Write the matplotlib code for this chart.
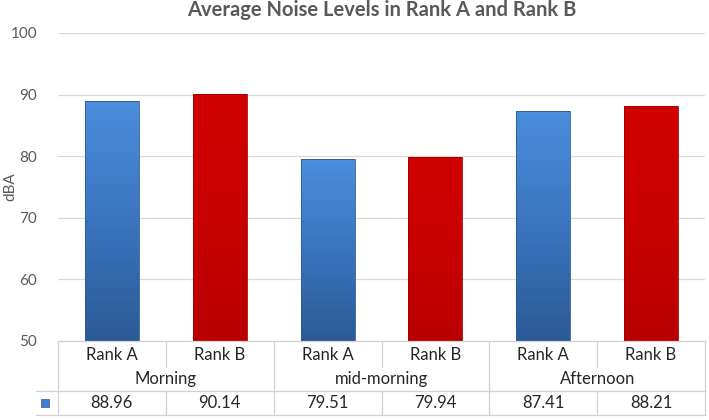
import matplotlib
matplotlib.use("Agg")
import matplotlib.pyplot as plt
import numpy as np
from matplotlib.colors import LinearSegmentedColormap

periods = ["Morning", "mid-morning", "Afternoon"]
ranks = ["Rank A", "Rank B"]
values = [88.96, 90.14, 79.51, 79.94, 87.41, 88.21]
value_labels = ["88.96", "90.14", "79.51", "79.94", "87.41", "88.21"]
yticks = [50, 60, 70, 80, 90, 100]

plt.rcParams['font.family'] = ['Lato', 'DejaVu Sans']
W, H = 709, 420
fig = plt.figure(figsize=(W / 100, H / 100), dpi=100)
fig.patch.set_facecolor("white")

def fx(px):
    return px / W

def fy(py):
    return 1 - py / H

L, R, T, B = 58, 705, 33, 341
ax = fig.add_axes([fx(L), fy(B), fx(R - L), (B - T) / H])
n = len(values)
x = np.arange(n)
ax.set_xlim(-0.5, n - 0.5)
ax.set_ylim(50, 100)
for s in ax.spines.values():
    s.set_visible(False)
ax.set_xticks([])
ax.set_yticks(yticks)
ax.tick_params(axis='y', length=0, pad=15, labelsize=11, labelcolor="#595959")
for yv in yticks[1:]:
    ax.axhline(yv, color="#d9d9d9", lw=0.9, zorder=0)
ax.set_ylabel("dBA", color="#595959", fontsize=11)
ax.yaxis.set_label_coords(-(L - 17) / (R - L), 0.5)

blue_cmap = LinearSegmentedColormap.from_list("b", ["#2c5a96", "#3a74bf", "#4a8edc"])
red_cmap = LinearSegmentedColormap.from_list("r", ["#b80000", "#c80000", "#d20000"])
grad = np.linspace(0, 1, 256).reshape(-1, 1)
width = 0.5
for i, v in enumerate(values):
    cmap = blue_cmap if i % 2 == 0 else red_cmap
    edge = "#2a5a94" if i % 2 == 0 else "#a00000"
    bar = ax.bar(x[i], v - 50, bottom=50, width=width, color="none",
                 edgecolor=edge, lw=0.6, zorder=3)[0]
    im = ax.imshow(grad, cmap=cmap, origin="lower", aspect="auto",
                   extent=[x[i] - width / 2, x[i] + width / 2, 50, v], zorder=2)
    im.set_clip_path(bar)
ax.set_xlim(-0.5, n - 0.5)
ax.set_ylim(50, 100)
ax.set_title("Average Noise Levels in Rank A and Rank B", fontsize=14.5,
             fontweight="bold", color="#595959", pad=12)

# data table
tb_top, tb_bot = 341, 415
axt = fig.add_axes([fx(L), fy(tb_bot), fx(R - L), (tb_bot - tb_top) / H])
axt.set_xlim(-0.5, n - 0.5)
axt.set_ylim(tb_bot, tb_top)
axt.axis("off")
lc = "#d0d0d0"
lw = 0.9
xl = -0.5 - (L - 36) / (R - L) * n
axt.plot([-0.5, n - 0.5], [341, 341], color=lc, lw=lw, clip_on=False)
axt.plot([xl, n - 0.5], [391, 391], color=lc, lw=lw, clip_on=False)
axt.plot([xl, n - 0.5], [415, 415], color=lc, lw=lw, clip_on=False)
for gx in [-0.5, 1.5, 3.5, 5.5]:
    axt.plot([gx, gx], [341, 415], color=lc, lw=lw, clip_on=False)
for gx in [0.5, 2.5, 4.5]:
    axt.plot([gx, gx], [341, 367], color=lc, lw=lw, clip_on=False)
    axt.plot([gx, gx], [391, 415], color=lc, lw=lw, clip_on=False)
tc = "#262626"
for i in range(n):
    axt.text(x[i], 355, ranks[i % 2], ha="center", va="center", fontsize=12, color=tc)
    axt.text(x[i], 403.5, value_labels[i], ha="center", va="center", fontsize=12, color=tc)
for g, p in enumerate(periods):
    axt.text(2 * g + 0.5, 379, p, ha="center", va="center", fontsize=12, color=tc)
kx = -0.5 - (L - 45) / (R - L) * n
axt.scatter([kx], [403], marker="s", s=36, color="#3f7fcf", edgecolors="#2a5a94",
            linewidths=0.5, clip_on=False)

fig.savefig("out.png", dpi=100, facecolor="white")
